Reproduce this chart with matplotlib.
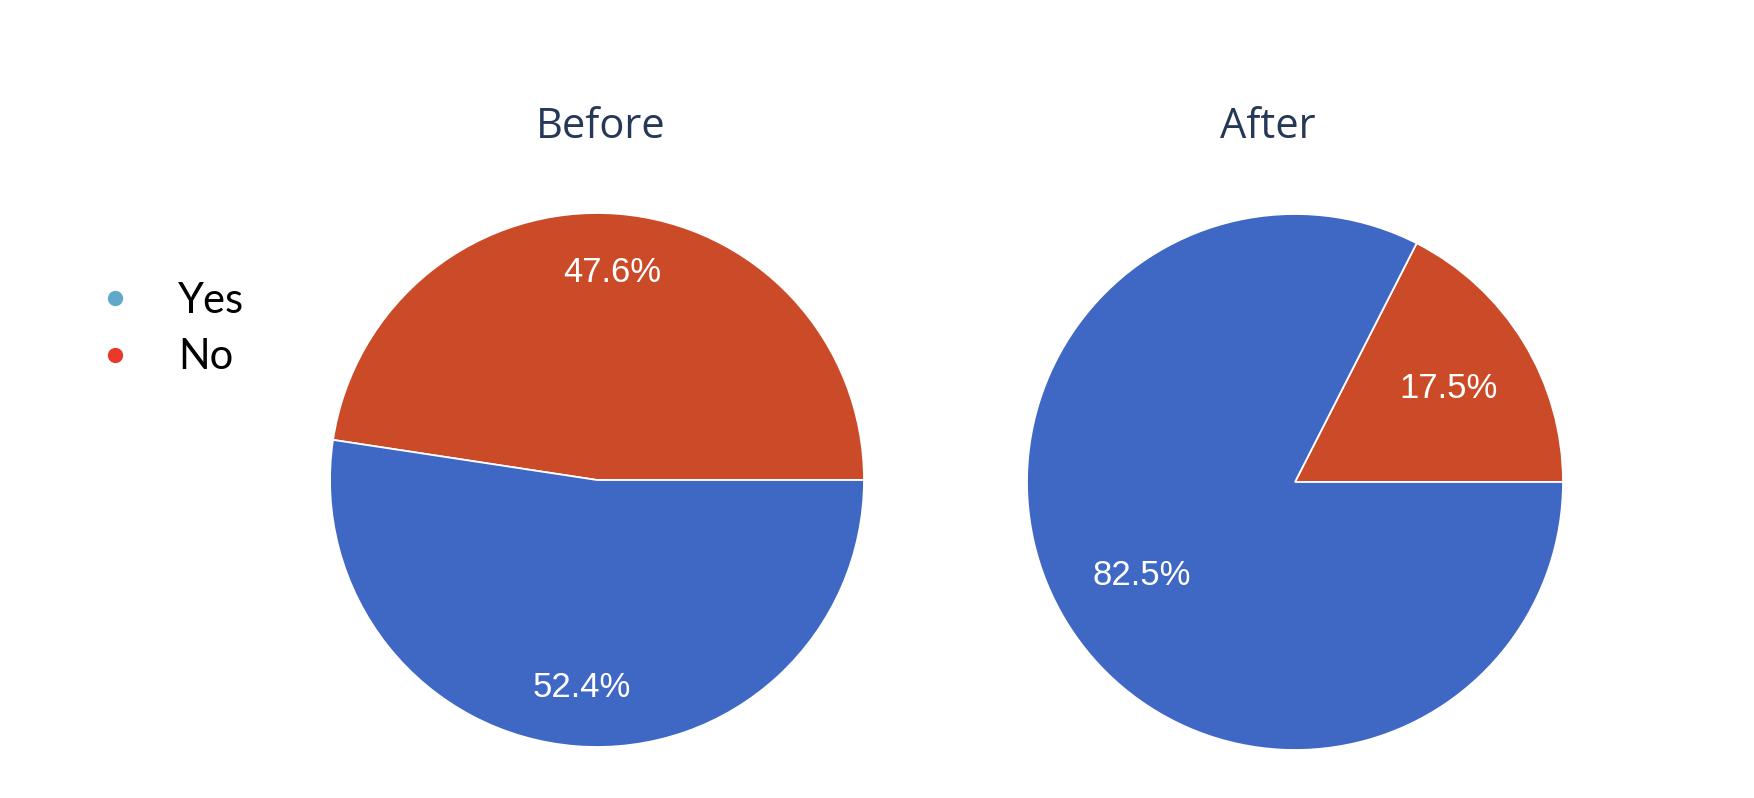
import matplotlib.pyplot as plt
from matplotlib.lines import Line2D

# Werte aus dem Bild
labels = ["No", "Yes"]
before_values = [47.6, 52.4]
after_values = [17.5, 82.5]
titles = ["Before", "After"]

legend_labels = ["Yes", "No"]
legend_colors = ["#62a9c9", "#e8392b"]

slice_colors = ["#cb4a28", "#3f67c4"]
title_color = "#253858"

W, H = 1754, 798
fig = plt.figure(figsize=(W / 100, H / 100), dpi=100)
fig.patch.set_facecolor("white")

# Pixelposition der Kreise (Mitte x, Mitte y, Radius)
pies = [
    (before_values, (597, 480, 267), 0.78, (601, 138)),
    (after_values, (1295, 482, 268), 0.67, (1268, 138)),
]

pad = 1.05
for (values, (cx, cy, r), pct_dist, (tx, ty)), title in zip(pies, titles):
    half = r * pad
    ax = fig.add_axes([(cx - half) / W, (H - cy - half) / H, 2 * half / W, 2 * half / H])
    wedges, texts, autotexts = ax.pie(
        values,
        colors=slice_colors,
        startangle=0,
        counterclock=True,
        autopct="%.1f%%",
        pctdistance=pct_dist,
        wedgeprops=dict(edgecolor="white", linewidth=1.3),
        textprops=dict(color="white", fontsize=25, family="Liberation Sans"),
    )
    ax.set_xlim(-pad, pad)
    ax.set_ylim(-pad, pad)
    ax.set_aspect("equal")
    ax.axis("off")
    fig.text(tx / W, 1 - ty / H, title, ha="center", va="baseline",
             fontsize=30, family="Open Sans", color=title_color)

# Legende
handles = [Line2D([], [], marker="o", linestyle="none", markersize=10,
                  markerfacecolor=c, markeredgecolor=c) for c in legend_colors]
fig.legend(handles, legend_labels, loc="upper left",
           bbox_to_anchor=(78 / W, 1 - 265 / H), frameon=False,
           prop=dict(family="Lato", size=30), handletextpad=1.0,
           labelspacing=0.45, borderaxespad=0, handlelength=1.0)

fig.savefig("out.png", dpi=100, facecolor="white")
